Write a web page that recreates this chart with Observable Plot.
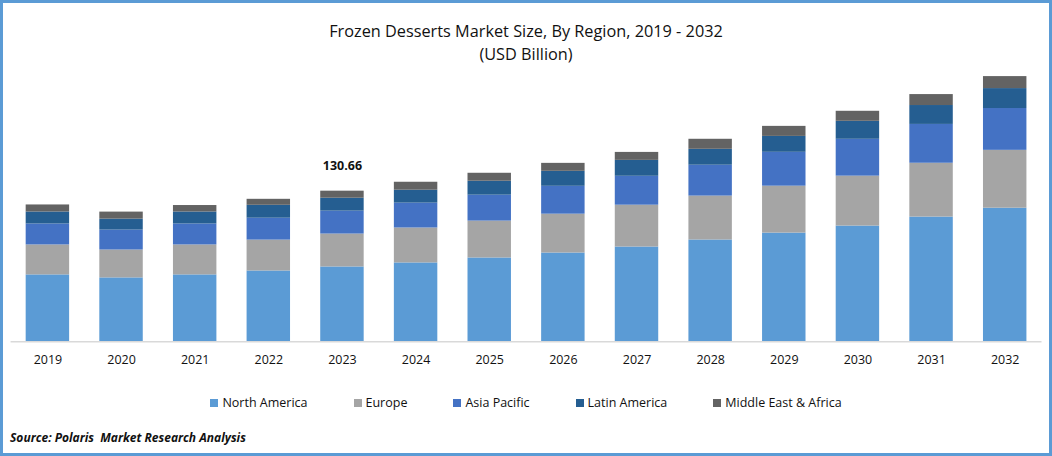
<!DOCTYPE html>
<html>
<head>
<meta charset="utf-8">
<script src="https://cdn.jsdelivr.net/npm/d3@7"></script>
<script src="https://cdn.jsdelivr.net/npm/@observablehq/plot@0.6"></script>
<style>
  html, body { margin: 0; padding: 0; background: #fff; }
  #frame {
    position: relative; width: 1052px; height: 456px; box-sizing: border-box;
    border: 3px solid #5b9bd5; font-family: "Open Sans", "Noto Sans", sans-serif; color: #000; overflow: hidden;
  }
  #title { position: absolute; left: 0; right: 0; top: 17px; text-align: center; font-size: 16.3px; line-height: 23px; color: #111; }
  #chart { position: absolute; left: -3px; top: 67px; }
  #legend { position: absolute; left: 0; right: 0; top: 391px; display: flex; justify-content: center; gap: 46px; font-size: 12.5px; color: #111; }
  #legend .item { display: flex; align-items: center; }
  #legend .sw { width: 8px; height: 8px; margin-right: 4px; display: inline-block; }
  #source { position: absolute; left: 7px; top: 426px; font-size: 12px; font-weight: bold; font-style: italic; color: #111; }
</style>
</head>
<body>
<div id="frame">
  <div id="title">Frozen Desserts Market Size, By Region, 2019 - 2032<br>(USD Billion)</div>
  <div id="chart"></div>
  <div id="legend"></div>
  <div id="source">Source: Polaris&nbsp; Market Research Analysis</div>
</div>
<script>
const years = ["2019","2020","2021","2022","2023","2024","2025","2026","2027","2028","2029","2030","2031","2032"];
const regions = ["North America","Europe","Asia Pacific","Latin America","Middle East & Africa"];
const regionColors = ["#5b9bd5","#a5a5a5","#4472c4","#255e91","#636363"];
const northAmerica = [58.0,55.4,58.0,61.4,64.9,68.4,72.7,77.0,82.2,88.3,94.3,100.4,108.2,115.9];
const europe       = [26.0,24.2,26.0,26.8,28.55,30.3,32.0,33.7,36.3,38.1,40.7,43.3,46.7,50.2];
const asiaPacific  = [18.2,17.3,18.2,19.0,19.9,21.6,22.5,24.2,25.1,26.8,29.4,32.0,33.7,36.3];
const latinAmerica = [10.4,9.5,10.4,11.2,11.2,11.2,12.1,13.0,13.8,13.8,13.8,15.6,16.4,17.3];
const middleEastAfrica = [6.1,6.1,5.6,5.2,6.11,6.9,6.9,6.9,6.9,8.7,8.7,8.7,9.5,10.4];
const labelYear = "2023";
const labelText = "130.66";

const series = [northAmerica, europe, asiaPacific, latinAmerica, middleEastAfrica];
const rows = [];
years.forEach((yr, i) => {
  regions.forEach((r, j) => rows.push({year: yr, region: r, value: series[j][i]}));
});
const totals = years.map((yr, i) => ({year: yr, total: d3.sum(series, s => s[i])}));

const chart = Plot.plot({
  width: 1052,
  height: 300,
  marginLeft: 10.6,
  marginRight: 7.5,
  marginTop: 6,
  marginBottom: 28,
  style: {fontFamily: "'Open Sans', 'Noto Sans', sans-serif", background: "transparent"},
  x: {type: "band", domain: years, paddingInner: 0.41, paddingOuter: 0.205, round: false, label: null},
  y: {domain: [0, 230.2], axis: null},
  color: {domain: regions, range: regionColors},
  marks: [
    Plot.barY(rows, {x: "year", y: "value", fill: "region"}),
    Plot.ruleY([0], {stroke: "#d9d9d9", strokeWidth: 1.5}),
    Plot.axisX({tickSize: 0, tickPadding: 13, fontSize: 12.5, fill: "#111", label: null}),
    Plot.text(totals.filter(d => d.year === labelYear), {x: "year", y: "total", text: () => labelText, dy: -25, fontSize: 12.5, fontWeight: "bold", fill: "#111"})
  ]
});
document.getElementById("chart").appendChild(chart);

const legend = document.getElementById("legend");
regions.forEach((r, j) => {
  const it = document.createElement("div");
  it.className = "item";
  const sw = document.createElement("span");
  sw.className = "sw";
  sw.style.background = regionColors[j];
  it.appendChild(sw);
  it.appendChild(document.createTextNode(r));
  legend.appendChild(it);
});
</script>
</body>
</html>
